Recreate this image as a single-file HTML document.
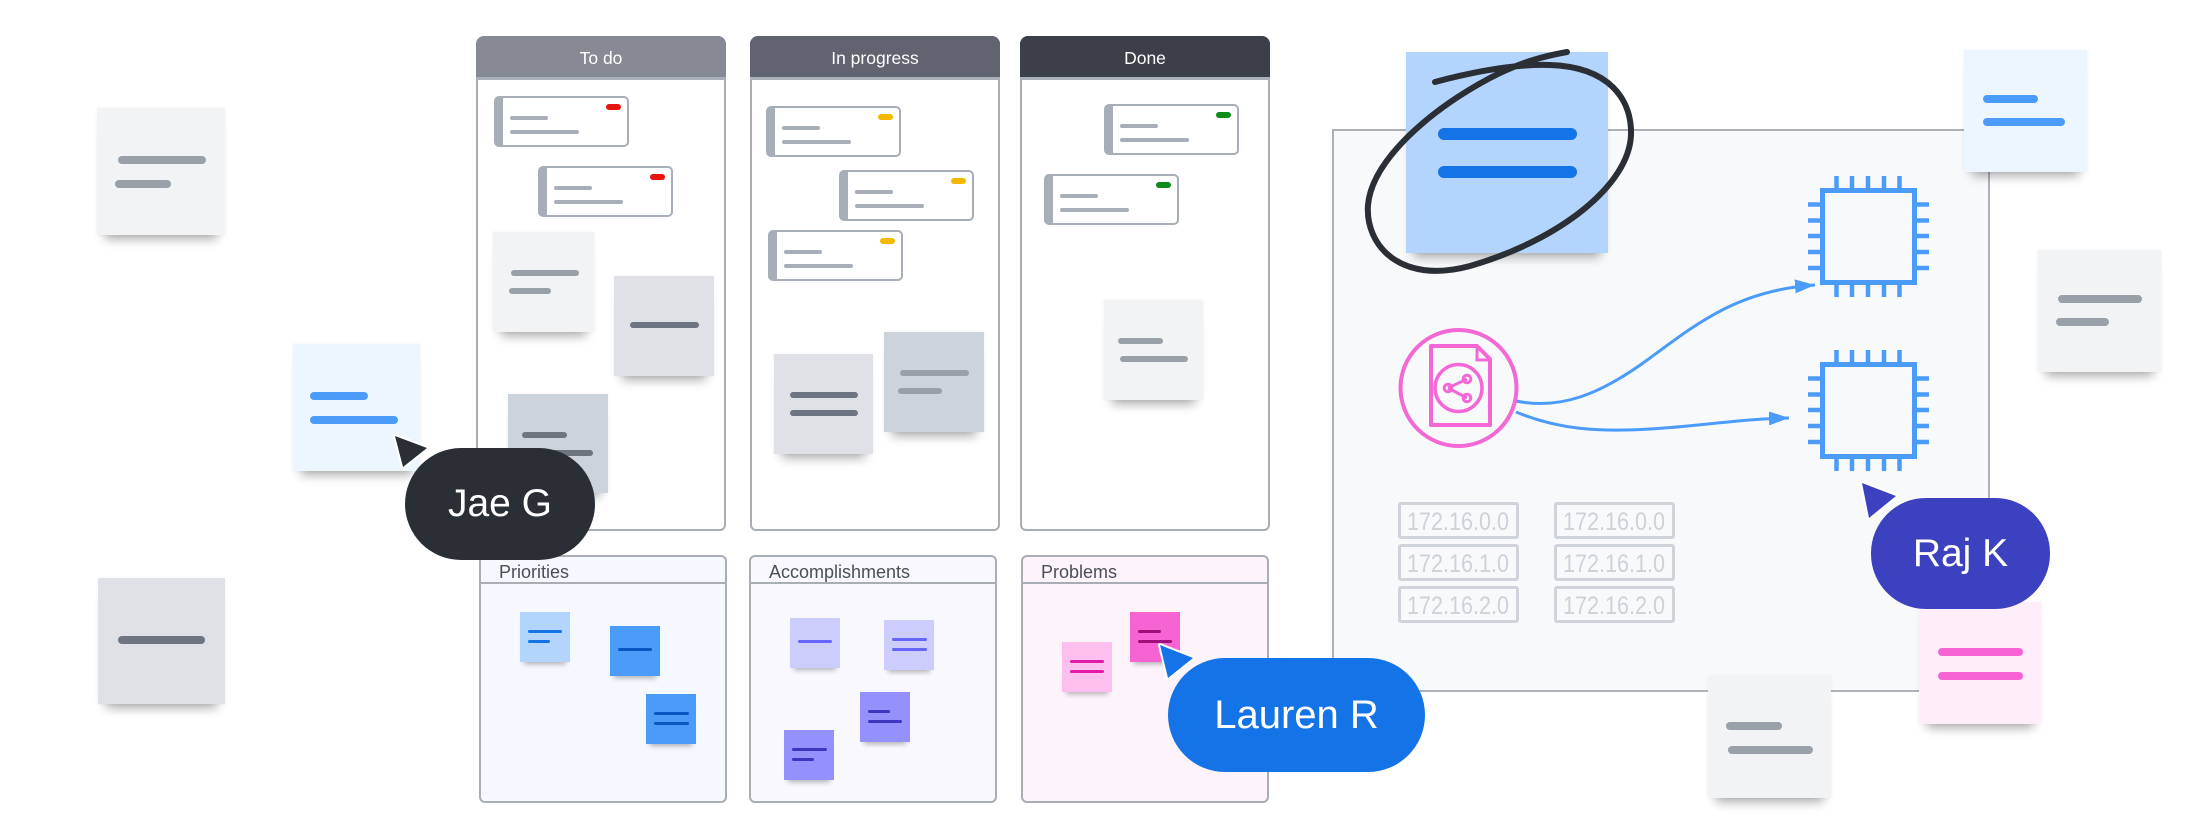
<!DOCTYPE html>
<html><head><meta charset="utf-8">
<style>
*{margin:0;padding:0;box-sizing:border-box}
body{width:2200px;height:840px;background:#fff;position:relative;overflow:hidden;font-family:"Liberation Sans",sans-serif}
.a{position:absolute}
.s{position:absolute;box-shadow:0 12px 10px -8px rgba(0,0,0,.33),0 0 4px rgba(0,0,0,.05)}
.m{position:absolute;box-shadow:0 6px 5px -4px rgba(0,0,0,.3)}
.l{position:absolute;border-radius:4px;height:8px}
.l6{position:absolute;border-radius:3px;height:6px}
.l3{position:absolute;border-radius:2px;height:3px}
.col{position:absolute;top:36px;width:250px;height:495px;border:2px solid #a9adb5;border-radius:8px 8px 6px 6px;background:#fff}
.hd{position:absolute;top:36px;width:250px;height:44px;border-radius:8px 8px 0 0;border-bottom:3px solid #aab0b8;color:#fff;font-size:17.5px;text-align:center;line-height:41px;padding-top:2px}
.c{position:absolute;width:135px;height:51px;border:2px solid #a8aeb7;border-left:9px solid #a8aeb7;border-radius:5px;background:#fff}
.c i{position:absolute;left:103px;top:6px;width:15px;height:6px;border-radius:3px}
.c b{position:absolute;left:7px;height:4px;border-radius:2px;background:#a8aeb7}
.pn{position:absolute;top:555px;width:248px;height:248px;border:2px solid #a9adb5;border-radius:6px}
.dv{position:absolute;top:582px;width:248px;height:2px;background:#a9adb5}
.pt{position:absolute;top:563px;font-size:18px;line-height:18px;color:#4a4f57}
.pill{position:absolute;color:#fff;display:flex;align-items:center;justify-content:center;font-size:39px}
.ip{position:absolute;width:121px;height:37px;border:3px solid #cfd4db;border-radius:3px}
</style></head><body>

<!-- left stickies -->
<div class="s" style="left:97px;top:108px;width:128px;height:127px;background:#f2f3f5">
</div>
<div class="l" style="left:118px;top:156px;width:88px;background:#9aa0a8"></div>
<div class="l" style="left:115px;top:180px;width:56px;background:#9aa0a8"></div>

<div class="s" style="left:293px;top:344px;width:127px;height:127px;background:#edf5ff"></div>
<div class="l" style="left:310px;top:392px;width:58px;background:#4b9cf8"></div>
<div class="l" style="left:310px;top:416px;width:88px;background:#4b9cf8"></div>

<div class="s" style="left:98px;top:578px;width:127px;height:126px;background:#dfe1e6"></div>
<div class="l" style="left:118px;top:636px;width:87px;background:#6e7480"></div>

<!-- columns -->
<div class="col" style="left:476px"></div>
<div class="col" style="left:750px"></div>
<div class="col" style="left:1020px"></div>
<div class="hd" style="left:476px;background:#858a94">To do</div>
<div class="hd" style="left:750px;background:#5f6470">In progress</div>
<div class="hd" style="left:1020px;background:#3b3f48">Done</div>

<!-- cards -->
<div class="c" style="left:494px;top:96px"><i style="background:#e8150f"></i><b style="top:18px;width:38px"></b><b style="top:32px;width:69px"></b></div>
<div class="c" style="left:538px;top:166px"><i style="background:#e8150f"></i><b style="top:18px;width:38px"></b><b style="top:32px;width:69px"></b></div>
<div class="c" style="left:766px;top:106px"><i style="background:#f5b800"></i><b style="top:18px;width:38px"></b><b style="top:32px;width:69px"></b></div>
<div class="c" style="left:839px;top:170px"><i style="background:#f5b800"></i><b style="top:18px;width:38px"></b><b style="top:32px;width:69px"></b></div>
<div class="c" style="left:768px;top:230px"><i style="background:#f5b800"></i><b style="top:18px;width:38px"></b><b style="top:32px;width:69px"></b></div>
<div class="c" style="left:1104px;top:104px"><i style="background:#0c8a1a"></i><b style="top:18px;width:38px"></b><b style="top:32px;width:69px"></b></div>
<div class="c" style="left:1044px;top:174px"><i style="background:#0c8a1a"></i><b style="top:18px;width:38px"></b><b style="top:32px;width:69px"></b></div>

<!-- column stickies -->
<div class="s" style="left:493px;top:232px;width:101px;height:100px;background:#f2f3f5"></div>
<div class="l6" style="left:511px;top:270px;width:68px;background:#9aa0a8"></div>
<div class="l6" style="left:509px;top:288px;width:42px;background:#9aa0a8"></div>

<div class="s" style="left:614px;top:276px;width:100px;height:100px;background:#dfe1e6"></div>
<div class="l6" style="left:630px;top:322px;width:69px;background:#6e7480"></div>

<div class="s" style="left:508px;top:394px;width:100px;height:99px;background:#cdd3db"></div>
<div class="l6" style="left:522px;top:432px;width:45px;background:#6e7480"></div>
<div class="l6" style="left:522px;top:450px;width:71px;background:#6e7480"></div>

<div class="s" style="left:774px;top:354px;width:99px;height:100px;background:#dfe1e6"></div>
<div class="l6" style="left:790px;top:392px;width:68px;background:#6e7480"></div>
<div class="l6" style="left:790px;top:410px;width:68px;background:#6e7480"></div>

<div class="s" style="left:884px;top:332px;width:100px;height:100px;background:#cdd3db"></div>
<div class="l6" style="left:900px;top:370px;width:69px;background:#9aa0a8"></div>
<div class="l6" style="left:898px;top:388px;width:44px;background:#9aa0a8"></div>

<div class="s" style="left:1104px;top:300px;width:99px;height:100px;background:#f2f3f5"></div>
<div class="l6" style="left:1118px;top:338px;width:45px;background:#9aa0a8"></div>
<div class="l6" style="left:1120px;top:356px;width:68px;background:#9aa0a8"></div>

<!-- lower panels -->
<div class="pn" style="left:479px;background:#f5f8fe"></div>
<div class="pn" style="left:749px;background:#f8f8fe"></div>
<div class="pn" style="left:1021px;background:#fdf4fb"></div>
<div class="dv" style="left:479px"></div>
<div class="dv" style="left:749px"></div>
<div class="dv" style="left:1021px"></div>
<div class="pt" style="left:499px">Priorities</div>
<div class="pt" style="left:769px">Accomplishments</div>
<div class="pt" style="left:1041px">Problems</div>

<!-- priorities stickies -->
<div class="m" style="left:520px;top:612px;width:50px;height:50px;background:#b3d4fc"></div>
<div class="l3" style="left:528px;top:630px;width:34px;background:#1473e6"></div>
<div class="l3" style="left:528px;top:640px;width:22px;background:#1473e6"></div>
<div class="m" style="left:610px;top:626px;width:50px;height:50px;background:#4b9cf8"></div>
<div class="l3" style="left:618px;top:648px;width:34px;background:#0b57c2"></div>
<div class="m" style="left:646px;top:694px;width:50px;height:50px;background:#4b9cf8"></div>
<div class="l3" style="left:654px;top:712px;width:35px;background:#0b57c2"></div>
<div class="l3" style="left:654px;top:722px;width:35px;background:#0b57c2"></div>

<!-- accomplishments -->
<div class="m" style="left:790px;top:618px;width:50px;height:50px;background:#cdcdfd"></div>
<div class="l3" style="left:798px;top:640px;width:34px;background:#6464f5"></div>
<div class="m" style="left:884px;top:620px;width:50px;height:50px;background:#cdcdfd"></div>
<div class="l3" style="left:892px;top:638px;width:35px;background:#6464f5"></div>
<div class="l3" style="left:892px;top:648px;width:35px;background:#6464f5"></div>
<div class="m" style="left:860px;top:692px;width:50px;height:50px;background:#9490fc"></div>
<div class="l3" style="left:868px;top:710px;width:22px;background:#3c36c0"></div>
<div class="l3" style="left:868px;top:720px;width:34px;background:#3c36c0"></div>
<div class="m" style="left:784px;top:730px;width:50px;height:50px;background:#9490fc"></div>
<div class="l3" style="left:792px;top:748px;width:35px;background:#3c36c0"></div>
<div class="l3" style="left:792px;top:758px;width:22px;background:#3c36c0"></div>

<!-- problems -->
<div class="m" style="left:1062px;top:642px;width:50px;height:50px;background:#fdbfee"></div>
<div class="l3" style="left:1070px;top:660px;width:34px;background:#e11aa8"></div>
<div class="l3" style="left:1070px;top:670px;width:34px;background:#e11aa8"></div>
<div class="m" style="left:1130px;top:612px;width:50px;height:50px;background:#f564d2"></div>
<div class="l3" style="left:1138px;top:630px;width:23px;background:#a00f78"></div>
<div class="l3" style="left:1138px;top:640px;width:34px;background:#a00f78"></div>

<!-- right panel -->
<div class="a" style="left:1332px;top:129px;width:658px;height:563px;background:#f8f9fb;border:2px solid #aeb2b8"></div>

<!-- IP boxes -->
<div class="ip" style="left:1398px;top:502px"></div>
<div class="ip" style="left:1398px;top:544px"></div>
<div class="ip" style="left:1398px;top:586px"></div>
<div class="ip" style="left:1554px;top:502px"></div>
<div class="ip" style="left:1554px;top:544px"></div>
<div class="ip" style="left:1554px;top:586px"></div>

<svg class="a" style="left:0;top:0" width="2200" height="840" viewBox="0 0 2200 840">
  <defs>
    <marker id="ah" markerUnits="userSpaceOnUse" markerWidth="21" markerHeight="14" refX="20" refY="7" orient="auto">
      <path d="M0 0 L20 7 L0 14 z" fill="#4b9cf8"/>
    </marker>
  </defs>
  <g font-family="Liberation Sans, sans-serif" font-size="25" fill="#cdd2d9">
    <text x="1407" y="530" textLength="102" lengthAdjust="spacingAndGlyphs">172.16.0.0</text>
    <text x="1407" y="572" textLength="102" lengthAdjust="spacingAndGlyphs">172.16.1.0</text>
    <text x="1407" y="614" textLength="102" lengthAdjust="spacingAndGlyphs">172.16.2.0</text>
    <text x="1563" y="530" textLength="102" lengthAdjust="spacingAndGlyphs">172.16.0.0</text>
    <text x="1563" y="572" textLength="102" lengthAdjust="spacingAndGlyphs">172.16.1.0</text>
    <text x="1563" y="614" textLength="102" lengthAdjust="spacingAndGlyphs">172.16.2.0</text>
  </g>
  <!-- chips -->
  <g stroke="#4b9cf8" stroke-width="5" fill="none">
    <g id="chip">
      <rect x="1822.5" y="190.5" width="92" height="92"/>
      <path d="M1836.5 176V188M1852 176V188M1868 176V188M1884 176V188M1899.5 176V188
               M1836.5 285V297M1852 285V297M1868 285V297M1884 285V297M1899.5 285V297
               M1808 204.5H1820M1808 220.5H1820M1808 236H1820M1808 252H1820M1808 268H1820
               M1917 204.5H1929M1917 220.5H1929M1917 236H1929M1917 252H1929M1917 268H1929" stroke-width="4.5"/>
    </g>
    <use href="#chip" transform="translate(0,174)"/>
  </g>
  <!-- arrows -->
  <g stroke="#4b9cf8" stroke-width="3" fill="none">
    <path d="M1516 401 C1560 410, 1600 395, 1650 358 S1740 290, 1815 285" marker-end="url(#ah)"/>
    <path d="M1516 412 C1560 430, 1600 432, 1650 429 C1700 426, 1740 419, 1789 418" marker-end="url(#ah)"/>
  </g>
  <!-- pink icon -->
  <g stroke="#f468d6" fill="none">
    <circle cx="1458.5" cy="388" r="58" stroke-width="4"/>
    <path d="M1431 346 H1477 L1490 359 V425 H1431 Z" stroke-width="4" stroke-linejoin="round"/>
    <path d="M1477 346 V360 H1490" stroke-width="3"/>
    <circle cx="1458.5" cy="388" r="23.5" stroke-width="3.5"/>
    <path d="M1448 388 L1467 379 M1448 388 L1467 398" stroke-width="3"/>
    <circle cx="1467" cy="379" r="3.8" stroke-width="3"/>
    <circle cx="1448" cy="388" r="3.8" stroke-width="3"/>
    <circle cx="1467" cy="398" r="3.8" stroke-width="3"/>
  </g>
</svg>

<!-- blue sticky with circle -->
<div class="s" style="left:1406px;top:52px;width:202px;height:201px;background:#b3d4fc"></div>
<div class="a" style="left:1438px;top:128px;width:139px;height:12px;border-radius:6px;background:#1473e6"></div>
<div class="a" style="left:1438px;top:166px;width:139px;height:12px;border-radius:6px;background:#1473e6"></div>

<svg class="a" style="left:0;top:0" width="2200" height="840" viewBox="0 0 2200 840">
  <path d="M1435 82 C1480 70, 1520 64, 1550 65 C1610 67, 1632 100, 1631 135 C1629 185, 1560 240, 1470 266 C1400 285, 1365 245, 1368 205 C1372 160, 1430 110, 1490 78 C1520 62, 1545 56, 1567 52" stroke="#2a2e35" stroke-width="6" fill="none" stroke-linecap="round"/>
</svg>

<!-- right stickies -->
<div class="s" style="left:1964px;top:50px;width:123px;height:122px;background:#edf5ff"></div>
<div class="l" style="left:1983px;top:95px;width:55px;background:#4b9cf8"></div>
<div class="l" style="left:1983px;top:118px;width:82px;background:#4b9cf8"></div>

<div class="s" style="left:2038px;top:250px;width:123px;height:122px;background:#f2f3f5"></div>
<div class="l" style="left:2058px;top:295px;width:84px;background:#9aa0a8"></div>
<div class="l" style="left:2056px;top:318px;width:53px;background:#9aa0a8"></div>

<div class="s" style="left:1919px;top:602px;width:122px;height:122px;background:#fdeefa"></div>
<div class="l" style="left:1938px;top:648px;width:85px;background:#f564d2"></div>
<div class="l" style="left:1938px;top:672px;width:85px;background:#f564d2"></div>

<div class="s" style="left:1708px;top:676px;width:123px;height:122px;background:#f2f3f5"></div>
<div class="l" style="left:1726px;top:722px;width:56px;background:#9aa0a8"></div>
<div class="l" style="left:1728px;top:746px;width:85px;background:#9aa0a8"></div>

<!-- cursors -->
<svg class="a" style="left:0;top:0" width="2200" height="840" viewBox="0 0 2200 840">
  <g stroke="#fff" stroke-width="4" stroke-linejoin="round" paint-order="stroke">
    <polygon points="395,436 427,448 403,467" fill="#2a2e35"/>
    <polygon points="1160,645 1193,658 1168,678" fill="#1473e6"/>
    <polygon points="1862,483 1896,496 1869,518" fill="#3c41c0"/>
  </g>
</svg>
<div class="pill" style="left:405px;top:448px;width:190px;height:112px;border-radius:56px;background:#2a2e35">Jae G</div>
<div class="pill" style="left:1168px;top:658px;width:257px;height:114px;border-radius:57px;background:#1473e6;font-size:40px">Lauren R</div>
<div class="pill" style="left:1871px;top:498px;width:179px;height:111px;border-radius:55px;background:#3c41c0">Raj K</div>

</body></html>
